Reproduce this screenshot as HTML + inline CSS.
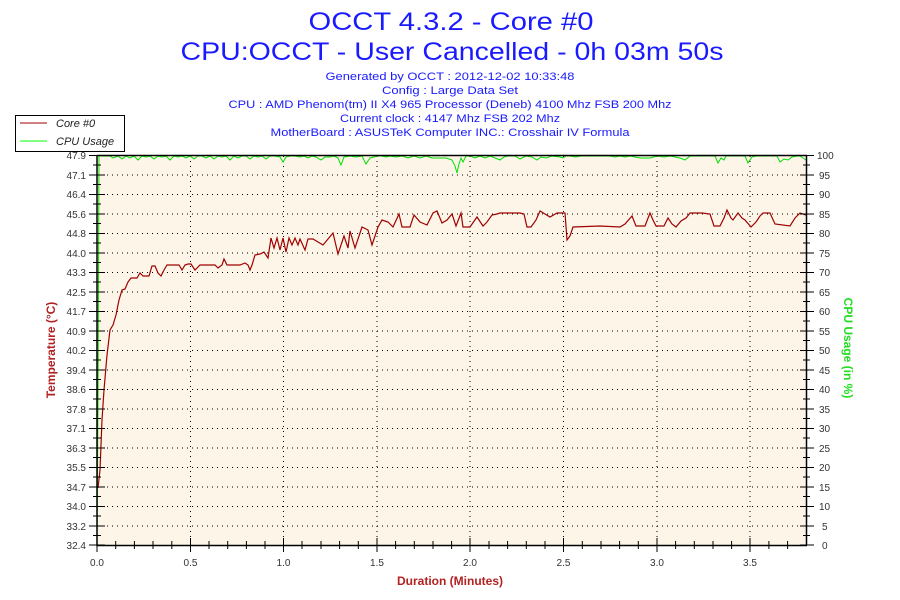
<!DOCTYPE html>
<html><head><meta charset="utf-8"><style>
html,body{margin:0;padding:0;background:#fff;}
svg{display:block;font-family:"Liberation Sans",sans-serif;}
</style></head><body>
<svg width="900" height="600" viewBox="0 0 900 600" xmlns="http://www.w3.org/2000/svg">
<rect width="900" height="600" fill="#fff"/>
<g fill="#1a1aff" text-anchor="middle">
<text x="451" y="30" font-size="25" textLength="285" lengthAdjust="spacingAndGlyphs">OCCT 4.3.2 - Core #0</text>
<text x="452" y="60" font-size="25" textLength="543" lengthAdjust="spacingAndGlyphs">CPU:OCCT - User Cancelled - 0h 03m 50s</text>
<text x="450" y="80" font-size="11" textLength="249" lengthAdjust="spacingAndGlyphs">Generated by OCCT : 2012-12-02 10:33:48</text>
<text x="450" y="94" font-size="11" textLength="136" lengthAdjust="spacingAndGlyphs">Config : Large Data Set</text>
<text x="450" y="108" font-size="11" textLength="443" lengthAdjust="spacingAndGlyphs">CPU : AMD Phenom(tm) II X4 965 Processor (Deneb) 4100 Mhz FSB 200 Mhz</text>
<text x="450" y="122" font-size="11" textLength="220" lengthAdjust="spacingAndGlyphs">Current clock : 4147 Mhz FSB 202 Mhz</text>
<text x="450" y="136" font-size="11" textLength="359" lengthAdjust="spacingAndGlyphs">MotherBoard : ASUSTeK Computer INC.: Crosshair IV Formula</text>
</g>
<rect x="97" y="155.5" width="709.5" height="389.5" fill="#fdf6e8"/>
<g stroke="#000" stroke-width="1" stroke-dasharray="1,4">
<path d="M97 175h709M97 194.5h709M97 214h709M97 233.5h709M97 253h709M97 272.5h709M97 292h709M97 311.5h709M97 331h709M97 350.5h709M97 370h709M97 389.5h709M97 409h709M97 428.5h709M97 448h709M97 467.5h709M97 487h709M97 506.5h709M97 526h709"/>
<path d="M190.5 156v389M283.5 156v389M377 156v389M470 156v389M563.5 156v389M657 156v389M750 156v389"/>
</g>
<polyline fill="none" stroke="#00e000" stroke-width="1" points="97,545 98,400 99,156 110,156 113,158 118,156 122,159 126,156 130,158 134,156 138,160 142,156 146,157 150,156 154,159 158,156 162,157 166,156 170,160 174,156 178,157 182,156 186,158 190,156 194,159 198,156 202,156 206,158 210,156 214,159 218,156 222,157 226,156 230,160 234,156 238,158 242,156 246,156 250,159 254,156 258,157 262,156 266,159 270,156 275,156 280,157 283,162 286,157 290,156 295,156 300,157 304,156 308,158 312,156 316,157 321,160 325,157 330,157 334,156 338,158 341,165 344,157 350,156 356,157 362,156 366,164 370,158 374,157 378,156 382,156 386,157 390,156 396,157 402,156 408,158 414,156 420,158 426,156 432,158 440,158 446,158 452,160 455,166 457,173 459,164 461,158 463,162 466,156 470,156 475,158 480,156 485,158 490,156 495,158 500,160 504,157 508,156 515,156 520,159 526,156 532,157 537,160 541,157 546,158 552,156 560,157 563,158 566,156 570,156 576,157 580,156 600,156 610,156 615,157 620,156 625,157 630,156 640,158 645,158 650,158 657,156 664,157 670,156 680,158 685,160 690,156 700,156 715,156 718,163 721,158 724,160 726,156 745,156 748,163 752,157 756,156 777,156 780,162 784,159 788,160 792,157 797,156 800,156 806,160"/>
<polyline fill="none" stroke="#a00000" stroke-width="1.2" points="98,488 100,470 102,420 104,390 107,355 110,330 113,325 116,315 119,300 122,290 125,289 128,282 131,278 134,278 137,278 140,273 143,276 146,276 149,276 152,266 155,266 158,273 161,276 164,270 167,265 170,265 173,265 176,265 179,265 182,270 185,265 188,264 191,264 195,270 200,265 205,265 210,265 215,265 218,268 222,265 224,259 227,265 240,265 245,263 248,265 250,270 252,265 255,255 260,254 264,252 268,258 271,238 274,248 277,238 280,250 283,238 286,252 289,238 292,245 295,238 298,245 300,239 305,250 308,239 313,239 318,242 323,245 328,239 333,233 338,254 344,236 348,248 350,231 355,248 362,227 368,230 372,245 378,227 382,220 388,222 393,227 399,214 402,227 410,227 414,215 420,222 427,225 433,213 437,211 442,223 447,220 452,214 456,226 461,213 463,227 470,227 477,217 483,226 487,222 492,215 497,214 500,213 520,213 524,214 527,227 531,227 536,220 540,211 545,214 550,217 557,213 565,213 567,240 570,236 573,227 600,226 620,227 625,224 632,216 636,226 645,226 650,213 653,220 656,226 664,226 668,218 672,224 676,227 681,221 686,218 690,213 702,213 710,214 714,226 720,226 724,218 727,210 731,218 733,220 738,213 742,218 745,220 751,227 756,222 760,216 763,213 770,213 775,224 790,226 795,218 800,213 806,215"/>
<g stroke="#000" stroke-width="1.5" fill="none">
<path d="M97 155v390.5h710"/>
<path d="M97 155.5h710M806.5 155v390.5"/>
</g>
<g stroke="#000" stroke-width="1">
<path d="M89 155.5h16M89 175h16M89 194.5h16M89 214h16M89 233.5h16M89 253h16M89 272.5h16M89 292h16M89 311.5h16M89 331h16M89 350.5h16M89 370h16M89 389.5h16M89 409h16M89 428.5h16M89 448h16M89 467.5h16M89 487h16M89 506.5h16M89 526h16M89 545h16"/>
<path d="M93 165h8M93 184.5h8M93 204h8M93 223.5h8M93 243h8M93 262.5h8M93 282h8M93 301.5h8M93 321h8M93 340.5h8M93 360h8M93 379.5h8M93 399h8M93 418.5h8M93 438h8M93 457.5h8M93 477h8M93 496.5h8M93 516h8M93 535.5h8"/>
<path d="M800 155.5h14M800 175h14M800 194.5h14M800 214h14M800 233.5h14M800 253h14M800 272.5h14M800 292h14M800 311.5h14M800 331h14M800 350.5h14M800 370h14M800 389.5h14M800 409h14M800 428.5h14M800 448h14M800 467.5h14M800 487h14M800 506.5h14M800 526h14M800 545h14"/>
<path d="M803 165h7M803 184.5h7M803 204h7M803 223.5h7M803 243h7M803 262.5h7M803 282h7M803 301.5h7M803 321h7M803 340.5h7M803 360h7M803 379.5h7M803 399h7M803 418.5h7M803 438h7M803 457.5h7M803 477h7M803 496.5h7M803 516h7M803 535.5h7"/>
<path d="M97 538v14M190.5 538v14M283.5 538v14M377 538v14M470 538v14M563.5 538v14M657 538v14M750 538v14"/>
<path d="M115.7 541v8M134.4 541v8M153 541v8M171.8 541v8M209 541v8M227.7 541v8M246.4 541v8M265 541v8M302 541v8M321 541v8M339.6 541v8M358.3 541v8M395.6 541v8M414.3 541v8M433 541v8M451.6 541v8M489 541v8M507.6 541v8M526.3 541v8M545 541v8M582.3 541v8M601 541v8M619.6 541v8M638.3 541v8M675.6 541v8M694.3 541v8M713 541v8M731.6 541v8M768.9 541v8M787.6 541v8"/>
</g>
<g font-size="10" fill="#333" text-anchor="end">
<text x="86" y="159">47.9</text><text x="86" y="179">47.1</text><text x="86" y="198">46.4</text><text x="86" y="218">45.6</text><text x="86" y="237">44.8</text><text x="86" y="257">44.0</text><text x="86" y="276">43.3</text><text x="86" y="296">42.5</text><text x="86" y="315">41.7</text><text x="86" y="335">40.9</text><text x="86" y="354">40.2</text><text x="86" y="374">39.4</text><text x="86" y="393">38.6</text><text x="86" y="413">37.8</text><text x="86" y="432">37.1</text><text x="86" y="452">36.3</text><text x="86" y="471">35.5</text><text x="86" y="491">34.7</text><text x="86" y="510">34.0</text><text x="86" y="530">33.2</text><text x="86" y="549">32.4</text>
</g>
<g font-size="10" fill="#333" text-anchor="start">
<text x="817" y="159">100</text><text x="819" y="179">95</text><text x="819" y="198">90</text><text x="819" y="218">85</text><text x="819" y="237">80</text><text x="819" y="257">75</text><text x="819" y="276">70</text><text x="819" y="296">65</text><text x="819" y="315">60</text><text x="819" y="335">55</text><text x="819" y="354">50</text><text x="819" y="374">45</text><text x="819" y="393">40</text><text x="819" y="413">35</text><text x="819" y="432">30</text><text x="819" y="452">25</text><text x="819" y="471">20</text><text x="819" y="491">15</text><text x="819" y="510">10</text><text x="822" y="530">5</text><text x="822" y="549">0</text>
</g>
<g font-size="10" fill="#333" text-anchor="middle">
<text x="97" y="566">0.0</text><text x="190.5" y="566">0.5</text><text x="283.5" y="566">1.0</text><text x="377" y="566">1.5</text><text x="470" y="566">2.0</text><text x="563.5" y="566">2.5</text><text x="657" y="566">3.0</text><text x="750" y="566">3.5</text>
</g>
<text x="450" y="585" font-size="12" font-weight="bold" fill="#b22222" text-anchor="middle">Duration (Minutes)</text>
<text transform="translate(55,350) rotate(-90)" font-size="12" font-weight="bold" fill="#b22222" text-anchor="middle">Temperature (°C)</text>
<text transform="translate(844,348) rotate(90)" font-size="12" font-weight="bold" fill="#22dd22" text-anchor="middle">CPU Usage (in %)</text>
<rect x="15.5" y="115.5" width="109" height="36" fill="#fff" stroke="#000" stroke-width="1"/>
<line x1="20" y1="123" x2="47" y2="123" stroke="#a00000"/>
<line x1="20" y1="141" x2="47" y2="141" stroke="#00ff00"/>
<g font-size="11" font-style="italic" fill="#222">
<text x="56" y="127">Core #0</text><text x="56" y="145">CPU Usage</text>
</g>
</svg>
</body></html>
